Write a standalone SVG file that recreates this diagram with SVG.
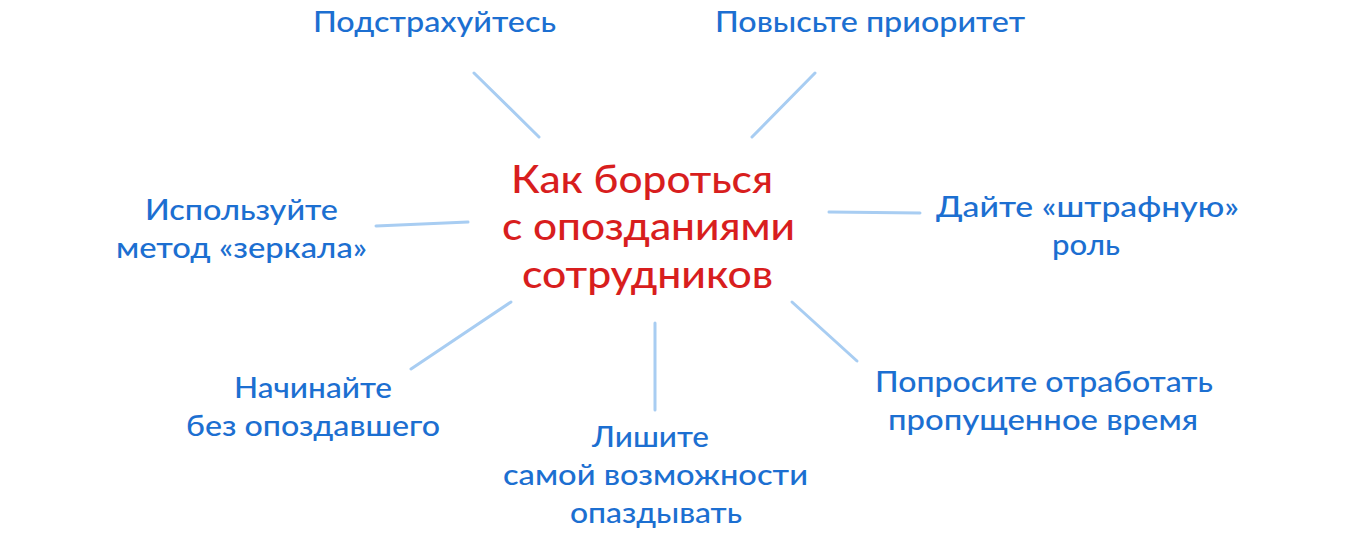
<svg xmlns="http://www.w3.org/2000/svg" width="1352" height="536" viewBox="0 0 1352 536">
  <style>
    .lbl { font-family: Lato, "Noto Sans", "Liberation Sans", sans-serif; font-size: 28px; font-weight: 500; fill: #1c6fd1; text-anchor: middle; }
    .title { font-family: Lato, "Liberation Sans", sans-serif; font-size: 39px; font-weight: 500; fill: #d81e1e; text-anchor: middle; }
    .conn line { stroke: #a8cdf2; stroke-width: 3; stroke-linecap: round; }
  </style>
  <rect x="0" y="0" width="1352" height="536" fill="#ffffff"/>
  <g id="connectors" class="conn">
    <line x1="474" y1="73" x2="539" y2="137"/>
    <line x1="815" y1="73" x2="752" y2="137"/>
    <line x1="376" y1="226" x2="468" y2="222"/>
    <line x1="829" y1="212" x2="920" y2="213"/>
    <line x1="411" y1="369" x2="511" y2="302"/>
    <line x1="655" y1="323" x2="655" y2="410"/>
    <line x1="792" y1="302" x2="857" y2="361"/>
  </g>
  <g id="center">
    <text class="title" x="642" y="193" textLength="262" lengthAdjust="spacingAndGlyphs">Как бороться</text>
    <text class="title" x="648.5" y="240" textLength="293" lengthAdjust="spacingAndGlyphs">с опозданиями</text>
    <text class="title" x="647.5" y="288" textLength="251" lengthAdjust="spacingAndGlyphs">сотрудников</text>
  </g>
  <g id="node-podstrahuytes">
    <text class="lbl" x="434.5" y="32" textLength="243" lengthAdjust="spacingAndGlyphs">Подстрахуйтесь</text>
  </g>
  <g id="node-povyste">
    <text class="lbl" x="870" y="32" textLength="310" lengthAdjust="spacingAndGlyphs">Повысьте приоритет</text>
  </g>
  <g id="node-ispolzuyte">
    <text class="lbl" x="241.5" y="220" textLength="193" lengthAdjust="spacingAndGlyphs">Используйте</text>
    <text class="lbl" x="241.5" y="258" textLength="251" lengthAdjust="spacingAndGlyphs">метод «зеркала»</text>
  </g>
  <g id="node-dayte">
    <text class="lbl" x="1087.5" y="217" textLength="303" lengthAdjust="spacingAndGlyphs">Дайте «штрафную»</text>
    <text class="lbl" x="1086" y="255" textLength="68" lengthAdjust="spacingAndGlyphs">роль</text>
  </g>
  <g id="node-poprosite">
    <text class="lbl" x="1044" y="392" textLength="338" lengthAdjust="spacingAndGlyphs">Попросите отработать</text>
    <text class="lbl" x="1043" y="430" textLength="310" lengthAdjust="spacingAndGlyphs">пропущенное время</text>
  </g>
  <g id="node-nachinayte">
    <text class="lbl" x="313" y="398" textLength="158" lengthAdjust="spacingAndGlyphs">Начинайте</text>
    <text class="lbl" x="313" y="436" textLength="254" lengthAdjust="spacingAndGlyphs">без опоздавшего</text>
  </g>
  <g id="node-lishite">
    <text class="lbl" x="650.5" y="447" textLength="117" lengthAdjust="spacingAndGlyphs">Лишите</text>
    <text class="lbl" x="655.5" y="485" textLength="305" lengthAdjust="spacingAndGlyphs">самой возможности</text>
    <text class="lbl" x="656" y="523" textLength="172" lengthAdjust="spacingAndGlyphs">опаздывать</text>
  </g>
</svg>
